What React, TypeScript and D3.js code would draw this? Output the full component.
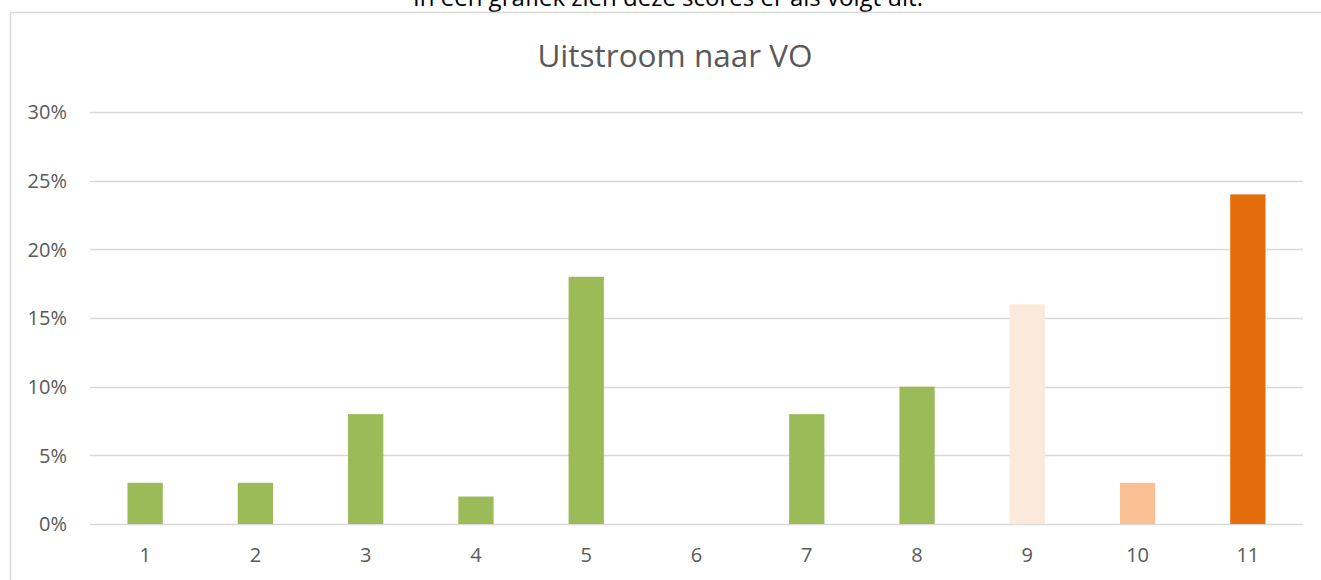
import { useEffect, useRef } from "react";
import * as d3 from "d3";

const categories = ["1", "2", "3", "4", "5", "6", "7", "8", "9", "10", "11"];
const values = [3, 3, 8, 2, 18, 0, 8, 10, 16, 3, 24];
const barColors = [
  "#9BBB59", "#9BBB59", "#9BBB59", "#9BBB59", "#9BBB59", "#9BBB59",
  "#9BBB59", "#9BBB59", "#FBE9DB", "#F9C193", "#E46C0A",
];
const yTicks = [0, 5, 10, 15, 20, 25, 30];

const App = () => {
  const chartRef = useRef<SVGSVGElement | null>(null);

  useEffect(() => {
    if (!chartRef.current) return;

    const W = 1321;
    const H = 580;
    const margin = { top: 112, right: 18, bottom: 56, left: 90 };
    const width = W - margin.left - margin.right;
    const height = H - margin.top - margin.bottom;
    const font = "'Open Sans', sans-serif";

    const root = d3.select(chartRef.current).html("").attr("width", W).attr("height", H);

    // Caption text above the chart (cut off at the top)
    root.append("text")
      .attr("x", 668)
      .attr("y", 6)
      .attr("text-anchor", "middle")
      .style("font-family", font)
      .style("font-size", "24px")
      .attr("fill", "#000")
      .text("In een grafiek zien deze scores er als volgt uit:");

    // Chart frame
    root.append("rect")
      .attr("x", 10.5)
      .attr("y", 12.5)
      .attr("width", W)
      .attr("height", H)
      .attr("fill", "#fff")
      .attr("stroke", "#d9d9d9")
      .attr("stroke-width", 1.5);

    // Title
    root.append("text")
      .attr("x", 675)
      .attr("y", 67)
      .attr("text-anchor", "middle")
      .style("font-family", font)
      .style("font-size", "31.5px")
      .attr("fill", "#595959")
      .text("Uitstroom naar VO");

    const svg = root.append("g").attr("transform", `translate(${margin.left},${margin.top})`);

    const xScale = d3.scaleBand().domain(categories).range([0, width]).paddingInner(0.68).paddingOuter(0.34);
    const yScale = d3.scaleLinear().domain([0, 30]).range([height, 0]);

    // Gridlines
    svg.append("g")
      .selectAll("line")
      .data(yTicks)
      .join("line")
      .attr("x1", 0)
      .attr("x2", width)
      .attr("y1", (d) => Math.round(yScale(d)) + 0.5)
      .attr("y2", (d) => Math.round(yScale(d)) + 0.5)
      .attr("stroke", "#d9d9d9")
      .attr("stroke-width", 1.5);

    // Y labels
    svg.append("g")
      .selectAll("text")
      .data(yTicks)
      .join("text")
      .attr("x", -23)
      .attr("y", (d) => yScale(d))
      .attr("dy", "0.36em")
      .attr("text-anchor", "end")
      .style("font-family", font)
      .style("font-size", "20px")
      .attr("fill", "#595959")
      .text((d) => `${d}%`);

    // Bars
    svg.append("g")
      .selectAll("rect")
      .data(values)
      .join("rect")
      .attr("x", (_, i) => xScale(categories[i]) || 0)
      .attr("y", (d) => yScale(d))
      .attr("width", xScale.bandwidth())
      .attr("height", (d) => height - yScale(d))
      .attr("fill", (_, i) => barColors[i]);

    // X labels
    svg.append("g")
      .selectAll("text")
      .data(categories)
      .join("text")
      .attr("x", (d) => (xScale(d) || 0) + xScale.bandwidth() / 2)
      .attr("y", height + 38)
      .attr("text-anchor", "middle")
      .style("font-family", font)
      .style("font-size", "20px")
      .attr("fill", "#595959")
      .text((d) => d);
  }, []);

  return <svg ref={chartRef} style={{ position: "absolute", left: 0, top: 0 }}></svg>;
};

export default App;
